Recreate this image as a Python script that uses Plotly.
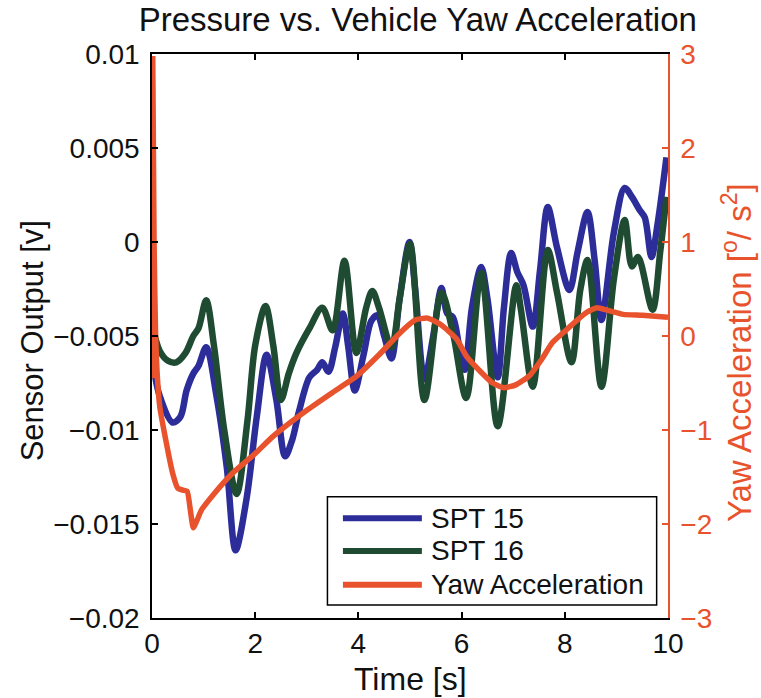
import plotly.graph_objects as go

# ---- data -------------------------------------------------------------
spt15_t = [0.02, 0.15, 0.40, 0.55, 0.67, 0.80, 0.90, 1.05, 1.25, 1.45, 1.62, 1.83, 2.03, 2.22,
           2.41, 2.58, 2.72, 2.85, 3.05, 3.20, 3.30, 3.42, 3.55, 3.70, 3.80, 3.93, 4.10, 4.25,
           4.37, 4.50, 4.64, 4.80, 4.99, 5.10, 5.28, 5.45, 5.61, 5.72, 5.83, 5.95, 6.06, 6.20,
           6.38, 6.50, 6.70, 6.82, 6.96, 7.08, 7.20, 7.38, 7.52, 7.67, 7.85, 8.09, 8.25, 8.44,
           8.58, 8.71, 8.95, 9.16, 9.30, 9.45, 9.55, 9.68, 9.80, 9.97]
spt15_v = [-6.5, -8.2, -9.6, -9.3, -7.9, -7.0, -6.6, -5.6, -8.2, -12.0, -16.4, -13.7, -9.3, -6.0,
           -8.4, -11.4, -10.5, -9.0, -7.2, -6.8, -6.4, -6.9, -5.6, -3.8, -5.5, -7.9, -6.0, -4.2,
           -3.9, -5.0, -6.2, -3.0, 0.0, -2.5, -7.3, -5.0, -2.45, -3.8, -4.0, -5.5, -6.8, -3.5,
           -1.33, -3.0, -7.2, -3.5, -0.59, -1.6, -2.3, -4.5, -1.5, 1.86, -0.3, -2.55, -0.5, 1.6,
           -1.0, -4.15, 0.5, 2.87, 2.4, 1.7, 1.3, -0.8, 1.0, 4.5]

spt16_t = [0.02, 0.15, 0.30, 0.47, 0.65, 0.80, 0.90, 1.05, 1.20, 1.40, 1.64, 1.85, 2.00, 2.20,
           2.35, 2.50, 2.65, 2.80, 3.05, 3.30, 3.50, 3.73, 3.96, 4.15, 4.27, 4.40, 4.64, 4.80,
           5.00, 5.28, 5.61, 5.83, 6.09, 6.38, 6.70, 7.06, 7.15, 7.38, 7.67, 7.85, 8.13, 8.30,
           8.44, 8.71, 8.95, 9.16, 9.30, 9.42, 9.70, 9.85, 9.97]
spt16_v = [-4.6, -5.8, -6.3, -6.4, -5.9, -5.0, -4.6, -3.1, -5.5, -10.0, -13.4, -9.5, -5.5, -3.4,
           -5.5, -8.4, -7.0, -5.9, -4.6, -3.5, -4.7, -1.0, -5.9, -3.5, -2.6, -3.5, -5.6, -3.0,
           -0.1, -8.4, -2.7, -4.8, -8.3, -1.65, -9.8, -2.3, -3.6, -7.7, -0.43, -2.7, -6.4, -2.55,
           -0.96, -7.7, -2.0, 1.17, -1.3, -0.8, -3.6, -0.5, 2.4]

yaw_t = [0.0, 0.015, 0.04, 0.07, 0.10, 0.15, 0.24, 0.40, 0.50, 0.60, 0.68, 0.75, 0.80, 0.88,
         0.96, 1.20, 1.56, 2.00, 2.34, 3.00, 3.50, 3.96, 4.40, 4.80, 5.10, 5.34, 5.60, 5.90,
         6.10, 6.35, 6.60, 6.82, 7.05, 7.32, 7.55, 7.76, 8.00, 8.20, 8.42, 8.62, 8.85, 9.13,
         9.50, 10.0]
yaw_v = [-0.45, 2.95, 1.0, 0.0, -0.4, -0.75, -1.03, -1.46, -1.62, -1.64, -1.65, -1.88, -2.04, -1.95,
         -1.85, -1.68, -1.46, -1.25, -1.07, -0.79, -0.60, -0.43, -0.20, 0.03, 0.17, 0.19, 0.12, -0.03,
         -0.22, -0.37, -0.50, -0.55, -0.52, -0.42, -0.25, -0.07, 0.05, 0.15, 0.25, 0.30, 0.27, 0.23,
         0.22, 0.20]

left_ticks = [0.01, 0.005, 0.0, -0.005, -0.01, -0.015, -0.02]
left_labels = ["0.01", "0.005", "0", "\u22120.005", "\u22120.01", "\u22120.015", "\u22120.02"]
right_ticks = [3, 2, 1, 0, -1, -2, -3]
right_labels = ["3", "2", "1", "0", "\u22121", "\u22122", "\u22123"]
x_ticks = [0, 2, 4, 6, 8, 10]

BLUE = "#2C2D98"
GREEN = "#1E4B32"
ORANGE = "#E8532D"
FONT = "Liberation Sans, Arial, sans-serif"

fig = go.Figure()
fig.add_trace(go.Scatter(x=spt15_t, y=[v / 1000 for v in spt15_v], mode="lines",
                         line=dict(color=BLUE, width=6.5, shape="spline", smoothing=0.9),
                         name="SPT 15", yaxis="y"))
fig.add_trace(go.Scatter(x=spt16_t, y=[v / 1000 for v in spt16_v], mode="lines",
                         line=dict(color=GREEN, width=6.5, shape="spline", smoothing=0.9),
                         name="SPT 16", yaxis="y"))
fig.add_trace(go.Scatter(x=yaw_t, y=yaw_v, mode="lines",
                         line=dict(color=ORANGE, width=5.5, shape="spline", smoothing=0.5),
                         name="Yaw Acceleration", yaxis="y2"))

# legend drawn as a boxed panel inside the plot
shapes = [dict(type="rect", xref="paper", yref="paper", x0=0.340, x1=0.978, y0=0.023, y1=0.215,
               line=dict(color="black", width=1.5), fillcolor="white", layer="above")]
annotations = []
entries = [("SPT 15", BLUE, 0.177), ("SPT 16", GREEN, 0.119), ("Yaw Acceleration", ORANGE, 0.059)]
for label, col, yy in entries:
    shapes.append(dict(type="line", xref="paper", yref="paper", x0=0.370, x1=0.523, y0=yy, y1=yy,
                       line=dict(color=col, width=6), layer="above"))
    annotations.append(dict(text=label, xref="paper", yref="paper", x=0.536, y=yy,
                            xanchor="left", yanchor="middle", showarrow=False,
                            font=dict(size=28, color="#111111", family=FONT)))

annotations += [
    dict(text="Sensor Output [v]", xref="paper", yref="paper", x=-0.232, y=0.491,
         textangle=-90, showarrow=False, xanchor="center", yanchor="middle",
         font=dict(size=31, color="#111111", family=FONT)),
    dict(text="Yaw Acceleration [<sup>o</sup>/ s<sup>2</sup>]", xref="paper", yref="paper",
         x=1.134, y=0.47, textangle=-90, showarrow=False, xanchor="center", yanchor="middle",
         font=dict(size=33, color=ORANGE, family=FONT)),
    dict(text="Time [s]", xref="paper", yref="paper", x=0.5, y=-0.108, showarrow=False,
         xanchor="center", yanchor="middle", font=dict(size=32, color="#111111", family=FONT)),
]

fig.update_layout(
    width=761, height=698,
    margin=dict(l=152, r=93, t=54, b=80),
    paper_bgcolor="white", plot_bgcolor="white",
    showlegend=False,
    title=dict(text="Pressure vs. Vehicle Yaw Acceleration", x=0.549, xanchor="center",
               y=0.972, yanchor="middle", font=dict(size=33, color="#111111", family=FONT)),
    xaxis=dict(range=[0, 10], tickvals=x_ticks, ticks="inside", ticklen=6, tickwidth=1.5,
               tickcolor="black", showline=True, linecolor="black", linewidth=1.5,
               mirror="ticks", showgrid=False, zeroline=False,
               tickfont=dict(size=28, color="#111111", family=FONT)),
    yaxis=dict(range=[-0.02, 0.01], tickvals=left_ticks, ticktext=left_labels,
               ticks="inside", ticklen=6, tickwidth=1.5, tickcolor="black",
               showline=True, linecolor="black", linewidth=1.5, showgrid=False, zeroline=False,
               ticklabelstandoff=5,
               tickfont=dict(size=28, color="#111111", family=FONT)),
    yaxis2=dict(range=[-3, 3], tickvals=right_ticks, ticktext=right_labels, overlaying="y",
                side="right", ticks="inside", ticklen=6, tickwidth=1.5, tickcolor=ORANGE,
                showline=True, linecolor=ORANGE, linewidth=1.5, showgrid=False, zeroline=False,
                ticklabelstandoff=5,
                tickfont=dict(size=28, color=ORANGE, family=FONT)),
    shapes=shapes,
    annotations=annotations,
)

fig.write_html("out.html")
